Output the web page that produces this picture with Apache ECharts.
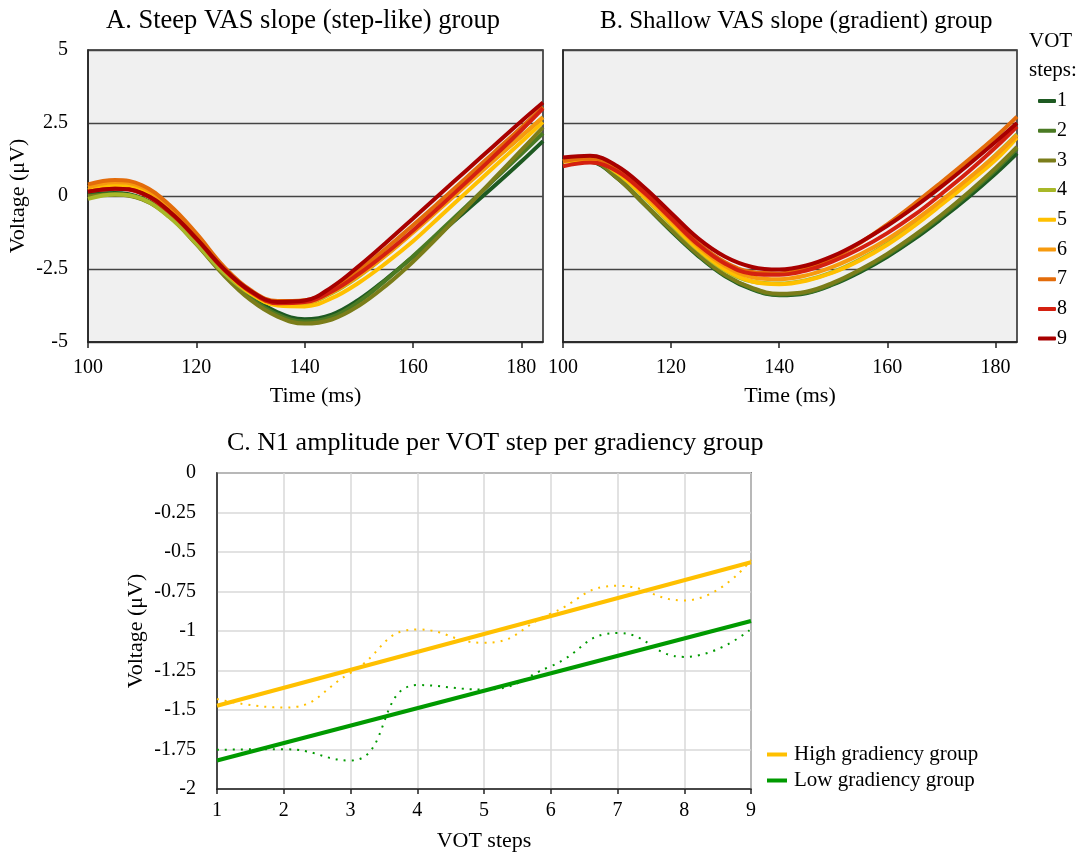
<!DOCTYPE html>
<html>
    <head>
        <meta charset="UTF-8">
        <script src="https://cdn.jsdelivr.net/npm/echarts@6/dist/echarts.min.js"></script>
        <style>
            html, body {
                margin: 0;
                padding: 0;
                background: #FFFFFF;
            }
        </style>
    </head>
    <body>
        <div id="main" style="width: 1079px;height:853px;"></div>
        <script type="text/javascript">
            // 时间点 (ms)
            const times = [100, 105, 110, 115, 120, 125, 130, 135, 140, 145, 150, 155, 160, 165, 170, 175, 180, 184];
            const stepNames = ['1', '2', '3', '4', '5', '6', '7', '8', '9'];
            const stepColors = ['#1E5A22', '#4A7A23', '#7B7D1A', '#A8B828', '#FFC000', '#F79A0E', '#E36C0A', '#D42010', '#A80000'];

            // A. Steep VAS slope group
            const steep1 = [0.05, 0.1, -0.08, -0.65, -1.58, -2.6, -3.42, -3.98, -4.22, -4.06, -3.55, -2.85, -2.08, -1.28, -0.47, 0.34, 1.18, 1.88];
            const steep2 = [0.0, 0.07, -0.1, -0.68, -1.62, -2.66, -3.5, -4.06, -4.3, -4.14, -3.62, -2.88, -2.06, -1.2, -0.32, 0.56, 1.44, 2.15];
            const steep3 = [-0.02, 0.05, -0.12, -0.7, -1.65, -2.7, -3.56, -4.13, -4.37, -4.23, -3.76, -3.07, -2.25, -1.33, -0.37, 0.6, 1.57, 2.35];
            const steep4 = [-0.1, 0.05, -0.1, -0.72, -1.63, -2.62, -3.35, -3.7, -3.68, -3.33, -2.75, -2.03, -1.22, -0.4, 0.43, 1.25, 2.05, 2.7];
            const steep5 = [0.2, 0.35, 0.2, -0.45, -1.4, -2.5, -3.33, -3.75, -3.78, -3.5, -2.97, -2.3, -1.55, -0.7, 0.15, 1.0, 1.85, 2.53];
            const steep6 = [0.3, 0.47, 0.3, -0.37, -1.33, -2.45, -3.28, -3.67, -3.65, -3.3, -2.73, -2.03, -1.25, -0.43, 0.4, 1.23, 2.05, 2.7];
            const steep7 = [0.4, 0.55, 0.37, -0.3, -1.28, -2.4, -3.22, -3.6, -3.57, -3.18, -2.55, -1.8, -1.0, -0.18, 0.65, 1.5, 2.35, 3.05];
            const steep8 = [0.15, 0.25, 0.08, -0.55, -1.47, -2.5, -3.28, -3.67, -3.63, -3.27, -2.67, -1.96, -1.18, -0.35, 0.5, 1.37, 2.25, 3.0];
            const steep9 = [0.15, 0.25, 0.1, -0.52, -1.45, -2.48, -3.25, -3.63, -3.58, -3.12, -2.4, -1.6, -0.77, 0.07, 0.9, 1.73, 2.56, 3.2];

            // B. Shallow VAS slope group
            const shallow1 = [1.22, 1.18, 0.62, -0.28, -1.2, -2.05, -2.75, -3.2, -3.4, -3.33, -3.03, -2.6, -2.08, -1.47, -0.78, -0.04, 0.76, 1.46];
            const shallow2 = [1.22, 1.2, 0.63, -0.26, -1.17, -2.02, -2.72, -3.17, -3.38, -3.31, -3.0, -2.55, -2.02, -1.4, -0.7, 0.06, 0.88, 1.62];
            const shallow3 = [1.2, 1.2, 0.62, -0.27, -1.15, -2.0, -2.7, -3.15, -3.35, -3.28, -2.97, -2.52, -1.98, -1.35, -0.65, 0.12, 0.95, 1.68];
            const shallow4 = [1.2, 1.25, 0.78, -0.05, -0.97, -1.85, -2.55, -2.93, -3.0, -2.88, -2.6, -2.17, -1.62, -0.95, -0.22, 0.57, 1.4, 2.12];
            const shallow5 = [1.17, 1.25, 0.8, -0.02, -0.93, -1.82, -2.52, -2.93, -3.02, -2.9, -2.62, -2.2, -1.67, -1.02, -0.3, 0.45, 1.23, 2.0];
            const shallow6 = [1.2, 1.28, 0.87, 0.07, -0.83, -1.72, -2.4, -2.78, -2.85, -2.72, -2.42, -2.0, -1.48, -0.85, -0.15, 0.6, 1.38, 2.08];
            const shallow7 = [1.2, 1.3, 0.93, 0.15, -0.75, -1.62, -2.27, -2.6, -2.65, -2.48, -2.12, -1.6, -0.97, -0.27, 0.47, 1.23, 2.02, 2.72];
            const shallow8 = [1.02, 1.15, 0.85, 0.12, -0.77, -1.66, -2.32, -2.66, -2.7, -2.55, -2.23, -1.8, -1.27, -0.65, 0.07, 0.83, 1.66, 2.38];
            const shallow9 = [1.32, 1.38, 1.03, 0.3, -0.58, -1.45, -2.08, -2.43, -2.52, -2.38, -2.05, -1.58, -1.02, -0.38, 0.32, 1.07, 1.85, 2.5];

            // C. N1 amplitude per VOT step
            const votSteps = [1, 2, 3, 4, 5, 6, 7, 8, 9];
            const highGroup = [-1.43, -1.485, -1.265, -0.99, -1.075, -0.89, -0.714, -0.807, -0.55];
            const lowGroup = [-1.752, -1.748, -1.82, -1.342, -1.37, -1.223, -1.013, -1.164, -0.987];
            // 线性趋势线端点 (step 1, step 9)
            const trendSteps = [1, 9];
            const highTrend = [-1.473, -0.565];
            const lowTrend = [-1.82, -0.937];

            const steepList = [steep1, steep2, steep3, steep4, steep5, steep6, steep7, steep8, steep9];
            const shallowList = [shallow1, shallow2, shallow3, shallow4, shallow5, shallow6, shallow7, shallow8, shallow9];

            const serif = 'Liberation Serif';
            const black = '#000000';

            function pairs(xs, ys) {
                let out = [];
                for (let i = 0; i < xs.length; i++) {
                    out.push([xs[i], ys[i]]);
                }
                return out;
            }

            let series = [];
            for (let i = 0; i < 9; i++) {
                series.push({
                    name: stepNames[i],
                    type: 'line',
                    xAxisIndex: 0,
                    yAxisIndex: 0,
                    smooth: 0.4,
                    symbol: 'none',
                    lineStyle: {width: 4, color: stepColors[i]},
                    itemStyle: {color: stepColors[i]},
                    data: pairs(times, steepList[i])
                });
            }
            for (let i = 0; i < 9; i++) {
                series.push({
                    name: stepNames[i],
                    type: 'line',
                    xAxisIndex: 1,
                    yAxisIndex: 1,
                    smooth: 0.4,
                    symbol: 'none',
                    lineStyle: {width: 4, color: stepColors[i]},
                    itemStyle: {color: stepColors[i]},
                    data: pairs(times, shallowList[i])
                });
            }

            // C 面板: 虚线数据 + 趋势线
            series.push({
                name: 'high data',
                type: 'line',
                xAxisIndex: 2,
                yAxisIndex: 2,
                smooth: 0.5,
                symbol: 'none',
                lineStyle: {width: 2, color: '#FFC000', type: [2, 6]},
                data: pairs(votSteps, highGroup)
            });
            series.push({
                name: 'low data',
                type: 'line',
                xAxisIndex: 2,
                yAxisIndex: 2,
                smooth: 0.5,
                symbol: 'none',
                lineStyle: {width: 2, color: '#009A00', type: [2, 6]},
                data: pairs(votSteps, lowGroup)
            });
            series.push({
                name: 'High gradiency group',
                type: 'line',
                xAxisIndex: 2,
                yAxisIndex: 2,
                symbol: 'none',
                lineStyle: {width: 4, color: '#FFC000'},
                itemStyle: {color: '#FFC000'},
                data: pairs(trendSteps, highTrend)
            });
            series.push({
                name: 'Low gradiency group',
                type: 'line',
                xAxisIndex: 2,
                yAxisIndex: 2,
                symbol: 'none',
                lineStyle: {width: 4, color: '#009A00'},
                itemStyle: {color: '#009A00'},
                data: pairs(trendSteps, lowTrend)
            });

            function timeAxis(idx) {
                return {
                    type: 'value',
                    gridIndex: idx,
                    min: 100,
                    max: 184,
                    interval: 20,
                    name: 'Time (ms)',
                    nameLocation: 'middle',
                    nameGap: 43,
                    nameTextStyle: {fontFamily: serif, fontSize: 22, color: black},
                    axisLine: {onZero: false, lineStyle: {color: '#222', width: 1.5}},
                    axisTick: {show: true, length: 6, lineStyle: {color: '#222', width: 1.5}},
                    axisLabel: {fontFamily: serif, fontSize: 20, color: black, margin: 16},
                    splitLine: {show: false}
                };
            }

            function voltAxis(idx, showLabel) {
                return {
                    type: 'value',
                    gridIndex: idx,
                    min: -5,
                    max: 5,
                    interval: 2.5,
                    name: showLabel ? 'Voltage (μV)' : '',
                    nameLocation: 'middle',
                    nameGap: 59,
                    nameTextStyle: {fontFamily: serif, fontSize: 22, color: black},
                    axisLine: {show: true, onZero: false, lineStyle: {color: '#222', width: 1.5}},
                    axisTick: {show: false},
                    axisLabel: {show: showLabel, fontFamily: serif, fontSize: 20, color: black, margin: 20},
                    splitLine: {show: true, lineStyle: {color: '#444444', width: 1.3}}
                };
            }

            const chart = echarts.init(document.getElementById('main'), null, {renderer: 'canvas'});
            const option = {
                backgroundColor: '#FFFFFF',
                animation: false,
                title: [
                    {text: 'A. Steep VAS slope (step-like) group', left: 101, top: 3,
                        textStyle: {fontFamily: serif, fontSize: 26.5, fontWeight: 'normal', color: black}},
                    {text: 'B. Shallow VAS slope (gradient) group', left: 595, top: 4,
                        textStyle: {fontFamily: serif, fontSize: 25, fontWeight: 'normal', color: black}},
                    {text: 'C. N1 amplitude per VOT step per gradiency group', left: 222, top: 425,
                        textStyle: {fontFamily: serif, fontSize: 26, fontWeight: 'normal', color: black}}
                ],
                graphic: [{
                    type: 'text',
                    left: 1029,
                    top: 27,
                    style: {
                        text: 'VOT\nsteps:',
                        align: 'center',
                        font: '21px "Liberation Serif"',
                        lineHeight: 29,
                        fill: black
                    }
                }],
                legend: [{
                    orient: 'vertical',
                    left: 1033,
                    top: 86,
                    itemWidth: 18,
                    itemHeight: 4,
                    itemGap: 9.7,
                    icon: 'roundRect',
                    data: stepNames,
                    textStyle: {fontFamily: serif, fontSize: 20, color: black, padding: [0, 0, 0, -4]}
                }, {
                    orient: 'vertical',
                    left: 762,
                    top: 739,
                    itemWidth: 20,
                    itemHeight: 4,
                    itemGap: 5,
                    icon: 'rect',
                    data: ['High gradiency group', 'Low gradiency group'],
                    textStyle: {fontFamily: serif, fontSize: 21, color: black, padding: [0, 0, 0, 2]}
                }],
                grid: [
                    {left: 88, top: 50, width: 455, height: 292, show: true, backgroundColor: '#F0F0F0', borderColor: '#222', borderWidth: 1.5},
                    {left: 563, top: 50, width: 454, height: 292, show: true, backgroundColor: '#F0F0F0', borderColor: '#222', borderWidth: 1.5},
                    {left: 217, top: 473, width: 534, height: 317, show: true, backgroundColor: '#FFFFFF', borderColor: '#222', borderWidth: 1.5}
                ],
                xAxis: [
                    timeAxis(0),
                    timeAxis(1),
                    {
                        type: 'value',
                        gridIndex: 2,
                        min: 1,
                        max: 9,
                        interval: 1,
                        name: 'VOT steps',
                        nameLocation: 'middle',
                        nameGap: 41,
                        nameTextStyle: {fontFamily: serif, fontSize: 22, color: black},
                        axisLine: {onZero: false, lineStyle: {color: '#222', width: 1.5}},
                        axisTick: {show: true, length: 5, lineStyle: {color: '#222', width: 1.5}},
                        axisLabel: {fontFamily: serif, fontSize: 20, color: black, margin: 12},
                        splitLine: {show: true, lineStyle: {color: '#D9D9D9', width: 1.5}}
                    }
                ],
                yAxis: [
                    voltAxis(0, true),
                    voltAxis(1, false),
                    {
                        type: 'value',
                        gridIndex: 2,
                        min: -2,
                        max: 0,
                        interval: 0.25,
                        name: 'Voltage (μV)',
                        nameLocation: 'middle',
                        nameGap: 70,
                        nameTextStyle: {fontFamily: serif, fontSize: 22, color: black},
                        axisLine: {show: true, onZero: false, lineStyle: {color: '#222', width: 1.5}},
                        axisTick: {show: false},
                        axisLabel: {fontFamily: serif, fontSize: 20, color: black, margin: 21},
                        splitLine: {show: true, lineStyle: {color: '#D9D9D9', width: 1.5}}
                    }
                ],
                series: series
            };
            chart.setOption(option);
        </script>
    </body>
</html>
